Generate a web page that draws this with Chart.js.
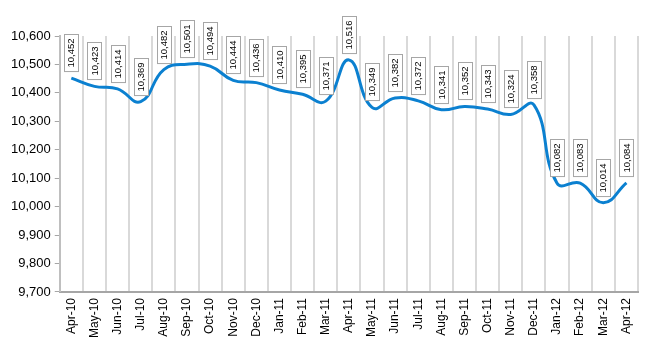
<!DOCTYPE html>
<html>
<head>
<meta charset="utf-8">
<script src="https://cdn.jsdelivr.net/npm/chart.js@4/dist/chart.umd.min.js"></script>
<style>
  html, body { margin: 0; padding: 0; background: #fff; }
  #wrap { width: 650px; height: 350px; }
</style>
</head>
<body>
<div id="wrap"><canvas id="trend"></canvas></div>
<script>
// Monthly values, Apr-10 .. Apr-12
const months = ['Apr-10', 'May-10', 'Jun-10', 'Jul-10', 'Aug-10', 'Sep-10', 'Oct-10', 'Nov-10', 'Dec-10',
  'Jan-11', 'Feb-11', 'Mar-11', 'Apr-11', 'May-11', 'Jun-11', 'Jul-11', 'Aug-11', 'Sep-11', 'Oct-11',
  'Nov-11', 'Dec-11', 'Jan-12', 'Feb-12', 'Mar-12', 'Apr-12'];
const values = [10452, 10423, 10414, 10369, 10482, 10501, 10494, 10444, 10436,
  10410, 10395, 10371, 10516, 10349, 10382, 10372, 10341, 10352, 10343,
  10324, 10358, 10082, 10083, 10014, 10084];
const yMin = 9700;
const yMax = 10600;
const yStep = 100;

const fmt = v => v.toLocaleString('en-US');

// boxed, vertical value labels above each point
const boxLabels = {
  id: 'boxLabels',
  afterDatasetsDraw(chart) {
    const ctx = chart.ctx;
    const meta = chart.getDatasetMeta(0);
    ctx.save();
    ctx.font = '9.5px "Liberation Sans", Arial, sans-serif';
    meta.data.forEach((pt, i) => {
      const txt = fmt(values[i]);
      const tw = ctx.measureText(txt).width;
      const bw = 14, bh = tw + 8;
      const bx = Math.round(pt.x - bw / 2) + 0.5;
      const by = Math.round(pt.y - 7 - bh) + 0.5;
      ctx.fillStyle = '#ffffff';
      ctx.fillRect(bx, by, bw, bh);
      ctx.strokeStyle = '#a6a6a6';
      ctx.lineWidth = 1;
      ctx.strokeRect(bx, by, bw, bh);
      ctx.translate(pt.x, by + bh / 2);
      ctx.rotate(-Math.PI / 2);
      ctx.fillStyle = '#000';
      ctx.textAlign = 'center';
      ctx.textBaseline = 'middle';
      ctx.fillText(txt, 0, 0.5);
      ctx.setTransform(1, 0, 0, 1, 0, 0);
    });
    ctx.restore();
  }
};

new Chart(document.getElementById('trend'), {
  type: 'line',
  data: {
    labels: months,
    datasets: [{
      data: values,
      borderColor: '#0b80d0',
      borderWidth: 3,
      pointRadius: 0,
      tension: 0.45,
      fill: false
    }]
  },
  options: {
    responsive: true,
    maintainAspectRatio: false,
    animation: false,
    layout: { padding: { top: 36, right: 12, left: 7, bottom: 6 } },
    plugins: { legend: { display: false }, tooltip: { enabled: false } },
    scales: {
      x: {
        offset: true,
        grid: {
          offset: true,
          color: '#d9d9d9',
          lineWidth: 2,
          drawTicks: false
        },
        border: { color: '#a6a6a6', width: 2 },
        ticks: {
          minRotation: 90,
          maxRotation: 90,
          autoSkip: false,
          padding: 6,
          color: '#000',
          font: { family: '"Liberation Sans", Arial, sans-serif', size: 12 }
        }
      },
      y: {
        min: yMin,
        max: yMax,
        grid: {
          drawOnChartArea: false,
          color: '#a6a6a6',
          tickLength: 5
        },
        border: { color: '#bfbfbf', width: 2 },
        ticks: {
          stepSize: yStep,
          padding: 4,
          color: '#000',
          font: { family: '"Liberation Sans", Arial, sans-serif', size: 13 },
          callback: v => fmt(v)
        }
      }
    }
  },
  plugins: [boxLabels]
});
</script>
</body>
</html>
